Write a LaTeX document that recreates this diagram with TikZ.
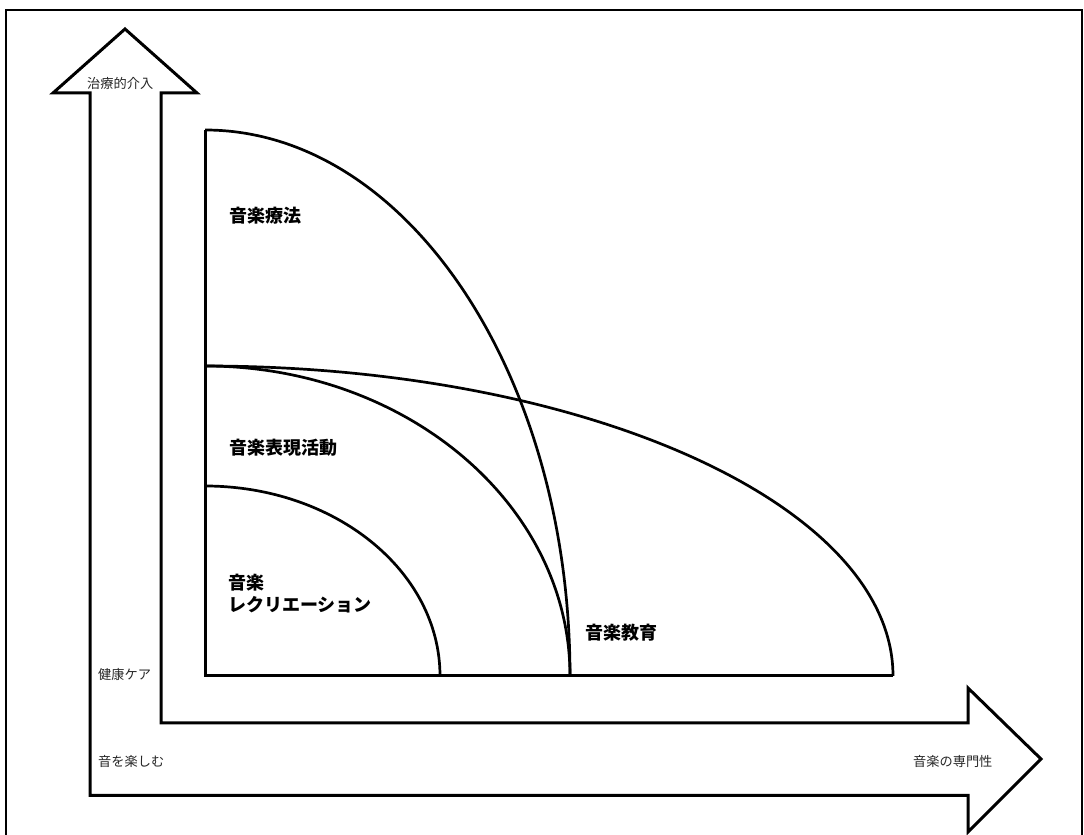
\documentclass[tikz,border=0pt]{standalone}
\usepackage{fontspec}
\newfontfamily\jp{Noto Sans CJK JP}
\begin{document}
\begin{tikzpicture}[x=1pt,y=1pt,
  thin label/.style={font=\jp\fontsize{13.2}{15}\selectfont, text=black!85, anchor=west, inner sep=0pt},
  area label/.style={font=\jp\bfseries\fontsize{18}{22}\selectfont, anchor=west, inner sep=0pt, align=left},
  outline/.style={line width=3pt, line join=miter},
  curve/.style={line width=2.7pt}]
\useasboundingbox (0,0) rectangle (1084,835);
% frame
\draw[line width=2pt] (6,-5) -- (6,825) -- (1082,825) -- (1082,-5);
% L-shaped double arrow
\draw[outline] (90,39.5) -- (90,742) -- (53,742) -- (125,806) -- (197,742) -- (161,742)
  -- (161,112) -- (968,112) -- (968,147) -- (1041,76) -- (968,3) -- (968,39.5) -- cycle;
% quadrant axes
\draw[outline] (205,705) -- (205,159) -- (893,159);
% curves
\draw[curve] (205,705) arc[start angle=90, end angle=0, x radius=365, y radius=546];
\draw[curve] (205,469) arc[start angle=90, end angle=0, x radius=688, y radius=310];
\draw[curve] (205,469) arc[start angle=90, end angle=0, x radius=365, y radius=310];
\draw[curve] (205,349) arc[start angle=90, end angle=0, x radius=235, y radius=190];
% labels
\node[thin label] (ti) at (87,752) {治療的介入};
\node[thin label] (kk) at (98,160) {健康ケア};
\node[thin label] (ot) at (98,74) {音を楽しむ};
\node[thin label] (sm) at (913,74) {音楽の専門性};
\node[area label] (ryo) at (229,619) {音楽療法};
\node[area label] (hyo) at (229,387) {音楽表現活動};
\node[area label] (rec) at (228,241) {音楽\\レクリエーション};
\node[area label] (kyo) at (585,202.5) {音楽教育};
\end{tikzpicture}
\end{document}
